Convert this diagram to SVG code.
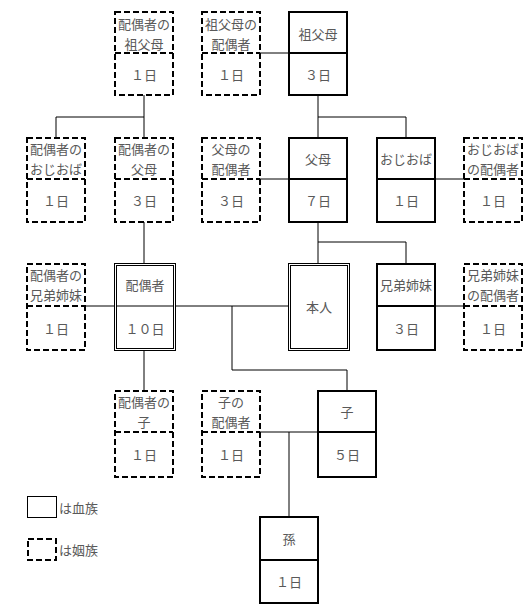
<svg xmlns="http://www.w3.org/2000/svg" width="531" height="614" viewBox="0 0 531 614">
<style>
.bg{fill:#fff}
.s{fill:#fff;stroke:#000;stroke-width:2}
.d{fill:#fff;stroke:#000;stroke-width:2;stroke-dasharray:6 3}
.ds{stroke:#000;stroke-width:2;stroke-dasharray:6 3}
.sd{stroke:#000;stroke-width:2}
.w{fill:none;stroke:#000;stroke-width:1}
.c{fill:none;stroke:#000;stroke-width:1}
text{font-family:"Noto Sans CJK JP","Noto Sans",sans-serif;font-size:13px;fill:#595959;text-anchor:middle;dominant-baseline:central}
.l{text-anchor:start}
</style>
<rect class="bg" width="531" height="614"/>
<g id="connectors">
<path class="c" d="M260,53H289"/>
<path class="c" d="M144,95V138M56,117H144M56,117V138"/>
<path class="c" d="M318,95V138M318,117H406V138"/>
<path class="c" d="M260,179H289"/>
<path class="c" d="M435,179H464"/>
<path class="c" d="M144,222V264"/>
<path class="c" d="M318,222V264M318,242H406V264"/>
<path class="c" d="M85,306H115M175,306H289"/>
<path class="c" d="M435,306H464"/>
<path class="c" d="M232,306V370H347V391"/>
<path class="c" d="M144,350V391"/>
<path class="c" d="M260,432H318"/>
<path class="c" d="M289,432V517"/>
</g>
<g id="spouse-grandparents">
<rect class="d" x="115" y="12" width="58" height="83"/>
<line class="ds" x1="115" y1="53" x2="173" y2="53"/>
<text x="144" y="23">配偶者の</text><text x="144" y="43">祖父母</text>
<text x="144" y="74">１日</text>
</g>
<g id="grandparents-spouse">
<rect class="d" x="202" y="12" width="58" height="83"/>
<line class="ds" x1="202" y1="53" x2="260" y2="53"/>
<text x="231" y="23">祖父母の</text><text x="231" y="43">配偶者</text>
<text x="231" y="74">１日</text>
</g>
<g id="grandparents">
<rect class="s" x="289" y="12" width="58" height="83"/>
<line class="sd" x1="289" y1="53" x2="347" y2="53"/>
<text x="318" y="33">祖父母</text>
<text x="318" y="74">３日</text>
</g>
<g id="spouse-aunts-uncles">
<rect class="d" x="27" y="138" width="58" height="84"/>
<line class="ds" x1="27" y1="179" x2="85" y2="179"/>
<text x="56" y="148">配偶者の</text><text x="56" y="168">おじおば</text>
<text x="56" y="200">１日</text>
</g>
<g id="spouse-parents">
<rect class="d" x="115" y="138" width="58" height="84"/>
<line class="ds" x1="115" y1="179" x2="173" y2="179"/>
<text x="144" y="148">配偶者の</text><text x="144" y="168">父母</text>
<text x="144" y="200">３日</text>
</g>
<g id="parents-spouse">
<rect class="d" x="202" y="138" width="58" height="84"/>
<line class="ds" x1="202" y1="179" x2="260" y2="179"/>
<text x="231" y="148">父母の</text><text x="231" y="168">配偶者</text>
<text x="231" y="200">３日</text>
</g>
<g id="parents">
<rect class="s" x="289" y="138" width="58" height="84"/>
<line class="sd" x1="289" y1="179" x2="347" y2="179"/>
<text x="318" y="158">父母</text>
<text x="318" y="200">７日</text>
</g>
<g id="aunts-uncles">
<rect class="s" x="377" y="138" width="58" height="84"/>
<line class="sd" x1="377" y1="179" x2="435" y2="179"/>
<text x="406" y="158">おじおば</text>
<text x="406" y="200">１日</text>
</g>
<g id="aunts-uncles-spouse">
<rect class="d" x="464" y="138" width="58" height="84"/>
<line class="ds" x1="464" y1="179" x2="522" y2="179"/>
<text x="493" y="148">おじおば</text><text x="493" y="168">の配偶者</text>
<text x="493" y="200">１日</text>
</g>
<g id="spouse-siblings">
<rect class="d" x="27" y="264" width="58" height="86"/>
<line class="ds" x1="27" y1="306" x2="85" y2="306"/>
<text x="56" y="274">配偶者の</text><text x="56" y="294">兄弟姉妹</text>
<text x="56" y="328">１日</text>
</g>
<g id="spouse">
<rect class="w" x="114.5" y="263.5" width="61" height="87"/>
<rect class="w" x="116.5" y="265.5" width="57" height="83"/>
<line class="c" x1="116" y1="306" x2="174" y2="306"/>
<text x="145" y="284">配偶者</text>
<text x="145" y="328">１０日</text>
</g>
<g id="self">
<rect class="w" x="288.5" y="263.5" width="61" height="87"/>
<rect class="w" x="290.5" y="265.5" width="57" height="83"/>
<text x="319" y="306">本人</text>
</g>
<g id="siblings">
<rect class="s" x="377" y="264" width="58" height="86"/>
<line class="sd" x1="377" y1="306" x2="435" y2="306"/>
<text x="406" y="284">兄弟姉妹</text>
<text x="406" y="328">３日</text>
</g>
<g id="siblings-spouse">
<rect class="d" x="464" y="264" width="58" height="86"/>
<line class="ds" x1="464" y1="306" x2="522" y2="306"/>
<text x="493" y="274">兄弟姉妹</text><text x="493" y="294">の配偶者</text>
<text x="493" y="328">１日</text>
</g>
<g id="spouse-children">
<rect class="d" x="115" y="391" width="58" height="86"/>
<line class="ds" x1="115" y1="432" x2="173" y2="432"/>
<text x="144" y="401">配偶者の</text><text x="144" y="421">子</text>
<text x="144" y="454">１日</text>
</g>
<g id="children-spouse">
<rect class="d" x="202" y="391" width="58" height="86"/>
<line class="ds" x1="202" y1="432" x2="260" y2="432"/>
<text x="231" y="401">子の</text><text x="231" y="421">配偶者</text>
<text x="231" y="454">１日</text>
</g>
<g id="children">
<rect class="s" x="318" y="391" width="58" height="86"/>
<line class="sd" x1="318" y1="432" x2="376" y2="432"/>
<text x="347" y="411">子</text>
<text x="347" y="454">５日</text>
</g>
<g id="grandchildren">
<rect class="s" x="260" y="517" width="58" height="86"/>
<line class="sd" x1="260" y1="560" x2="318" y2="560"/>
<text x="289" y="538">孫</text>
<text x="289" y="581">１日</text>
</g>
<g id="legend">
<rect class="w" x="27.5" y="496.5" width="29" height="21"/>
<text class="l" x="59" y="507">は血族</text>
<rect class="d" x="28" y="539" width="28" height="21"/>
<text class="l" x="59" y="549">は姻族</text>
</g>
</svg>
